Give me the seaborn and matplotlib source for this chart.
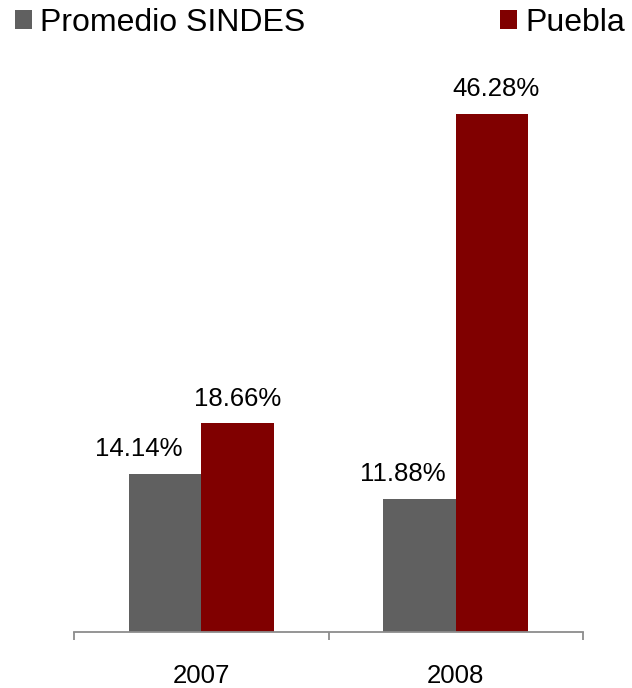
import pandas as pd
import matplotlib
matplotlib.use("Agg")
import matplotlib.pyplot as plt
import seaborn as sns

# data
years = ["2007", "2008"]
promedio = [14.14, 11.88]
puebla = [18.66, 46.28]
series = ["Promedio SINDES", "Puebla"]
colors = ["#606060", "#800000"]

df = pd.DataFrame({
    "year": years * 2,
    "value": promedio + puebla,
    "serie": [series[0]] * 2 + [series[1]] * 2,
})

sns.set_style("white")
plt.rcParams["font.family"] = ["Liberation Sans", "DejaVu Sans"]
plt.rcParams["text.color"] = "black"

fig = plt.figure(figsize=(6.32, 6.88), dpi=100)
ax = fig.add_axes([74 / 632, 56 / 688, 509 / 632, 560 / 688])

sns.barplot(data=df, x="year", y="value", hue="serie", palette=colors,
            width=0.57, saturation=1, linewidth=0, ax=ax, legend=True)

ax.set_ylim(0, 50)
ax.set_xlim(-0.5, 1.5)

# label shifts (points), the original labels are not quite centred on the bars
shifts = [[-19, -12], [0, 3]]
for c, sh in zip(ax.containers, shifts):
    labs = ax.bar_label(c, fmt="%.2f%%", padding=9, fontsize=18.5, color="black")
    for t, dx in zip(labs, sh):
        t.xyann = (dx, t.xyann[1])

ax.set_xlabel("")
ax.set_ylabel("")
ax.set_yticks([])
for s in ["left", "right", "top"]:
    ax.spines[s].set_visible(False)
ax.spines["bottom"].set_color("#8c8c8c")
ax.spines["bottom"].set_linewidth(1.3)

# ticks sit on the category boundaries, labels in the middle
ax.set_xticks([0, 1])
ax.set_xticklabels(years, fontsize=18.5, color="black")
ax.tick_params(axis="x", which="major", length=0, pad=23)
ax.set_xticks([-0.5, 0.5, 1.5], minor=True)
ax.tick_params(axis="x", which="minor", bottom=True, length=6, width=1.3,
               color="#8c8c8c", direction="out")

ax.get_legend().remove()
handles, labels = ax.get_legend_handles_labels()
fig.legend(handles, labels, ncol=2, loc="upper left",
           bbox_to_anchor=(15 / 632, 1 - 8 / 688),
           frameon=False, fontsize=23, handlelength=0.53, handleheight=0.53,
           handletextpad=0.25, columnspacing=6.1, borderaxespad=0.0,
           borderpad=0.0, labelcolor="black")

fig.savefig("out.png", dpi=100)
